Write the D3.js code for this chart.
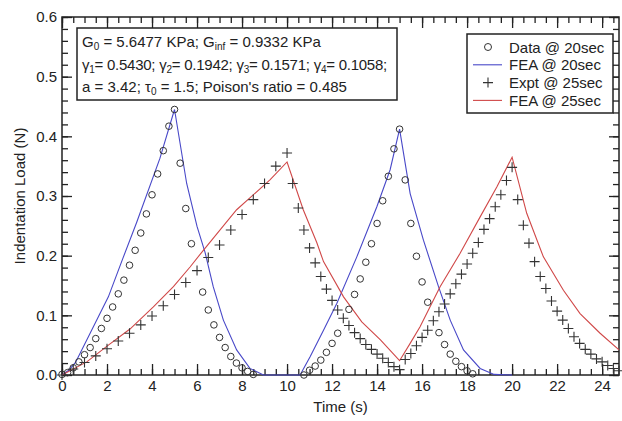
<!DOCTYPE html>
<html>
<head>
<meta charset="utf-8">
<script src="https://cdn.jsdelivr.net/npm/d3@7"></script>
<style>
  body { margin: 0; background: #fff; }
  svg { font-family: "Liberation Sans", Arial, sans-serif; }
</style>
</head>
<body>
<div id="chart"></div>
<script>
const width = 622, height = 421;
const margin = { left: 62, right: 3, top: 17, bottom: 46 };

// Data @ 20sec (circles) : [time, load]
const data20 = [
  [0, 0.001], [0.25, 0.004], [0.5, 0.012], [0.75, 0.022], [1.0, 0.034], [1.25, 0.046], [1.5, 0.061],
  [1.75, 0.078], [2.0, 0.095], [2.25, 0.114], [2.5, 0.136], [2.75, 0.159], [3.0, 0.184], [3.25, 0.209],
  [3.5, 0.238], [3.75, 0.27], [4.0, 0.302], [4.25, 0.337], [4.5, 0.376], [4.75, 0.417], [5.0, 0.445],
  [5.25, 0.355], [5.5, 0.279], [5.75, 0.22], [6.25, 0.139], [6.5, 0.109], [6.75, 0.084], [7.0, 0.063],
  [7.25, 0.046], [7.5, 0.031], [7.75, 0.02], [8.0, 0.012], [8.25, 0.006], [8.5, 0.001],
  [10.75, 0.0], [11.0, 0.008], [11.25, 0.015], [11.5, 0.025], [11.75, 0.038], [12.0, 0.053], [12.25, 0.07],
  [12.75, 0.11], [13.0, 0.135], [13.25, 0.161], [13.5, 0.189], [13.75, 0.22], [14.0, 0.254],
  [14.25, 0.292], [14.5, 0.333], [14.75, 0.379], [15.0, 0.412], [15.25, 0.327], [15.5, 0.254],
  [15.75, 0.199], [16.0, 0.156], [16.25, 0.122], [16.75, 0.071], [17.0, 0.051], [17.25, 0.035],
  [17.5, 0.023], [17.75, 0.014], [18.0, 0.007], [18.25, 0.002]
];

// FEA @ 20sec (blue line)
const fea20 = [
  [0, 0], [0.3, 0.008], [0.6, 0.021], [1.2, 0.066], [2.06, 0.131], [2.7, 0.195], [3.32, 0.256],
  [4.35, 0.363], [5.0, 0.445], [5.54, 0.321], [6.0, 0.249], [6.36, 0.205], [6.72, 0.148],
  [7.17, 0.092], [7.76, 0.042], [8.35, 0.011], [8.95, 0.0], [10.58, 0.0], [11.03, 0.031],
  [11.62, 0.075], [12.21, 0.12], [13.1, 0.198], [13.99, 0.282], [14.58, 0.344], [15.0, 0.412],
  [15.47, 0.304], [16.06, 0.226], [16.73, 0.148], [17.25, 0.092], [17.84, 0.042], [18.58, 0.011],
  [19.2, 0.001], [20.0, 0.0]
];

// Expt @ 25sec (plus markers)
const expt25 = [
  [0, 0], [0.5, 0.01], [1.0, 0.021], [1.5, 0.032], [2.0, 0.044], [2.5, 0.057], [3.0, 0.07],
  [3.5, 0.084], [4.0, 0.099], [4.5, 0.116], [5.0, 0.135], [5.5, 0.155], [6.0, 0.175], [6.5, 0.197],
  [7.0, 0.218], [7.5, 0.243], [8.0, 0.269], [8.5, 0.294], [9.0, 0.321], [9.5, 0.35], [10.0, 0.372],
  [10.25, 0.321], [10.5, 0.28], [10.75, 0.243], [11.0, 0.213], [11.25, 0.188], [11.5, 0.165],
  [11.75, 0.144], [12.0, 0.125], [12.25, 0.109], [12.5, 0.095], [12.75, 0.083], [13.0, 0.071],
  [13.25, 0.061], [13.5, 0.051], [13.75, 0.043], [14.0, 0.035], [14.25, 0.028], [14.5, 0.021],
  [14.75, 0.014], [15.0, 0.009], [15.25, 0.026], [15.5, 0.036], [15.75, 0.049], [16.0, 0.063],
  [16.25, 0.075], [16.5, 0.091], [16.75, 0.106], [17.0, 0.119], [17.25, 0.136], [17.5, 0.153],
  [17.75, 0.169], [18.0, 0.186], [18.25, 0.204], [18.5, 0.222], [18.75, 0.244], [19.0, 0.262],
  [19.25, 0.282], [19.5, 0.302], [19.75, 0.326], [20.0, 0.348], [20.25, 0.294], [20.5, 0.251],
  [20.75, 0.221], [21.0, 0.19], [21.25, 0.165], [21.5, 0.145], [21.75, 0.124], [22.0, 0.107],
  [22.25, 0.092], [22.5, 0.078], [22.75, 0.064], [23.0, 0.053], [23.25, 0.043], [23.5, 0.035],
  [23.75, 0.027], [24.0, 0.022], [24.25, 0.016], [24.5, 0.011], [24.75, 0.007]
];

// FEA @ 25sec (red line)
const fea25 = [
  [0, 0], [1.1, 0.022], [2.06, 0.05], [3.02, 0.077], [4.06, 0.114], [4.95, 0.148], [5.69, 0.181],
  [6.28, 0.209], [7.76, 0.277], [9.24, 0.327], [10.0, 0.357], [10.72, 0.277], [11.32, 0.222],
  [11.62, 0.19], [12.51, 0.131], [13.32, 0.089], [14.15, 0.059], [15.0, 0.024], [15.47, 0.053],
  [15.91, 0.081], [16.8, 0.148], [17.69, 0.204], [18.58, 0.265], [19.32, 0.315], [20.0, 0.365],
  [20.65, 0.271], [21.39, 0.198], [22.28, 0.142], [23.02, 0.103], [23.91, 0.07], [24.75, 0.042]
];

const xMajor = d3.range(0, 25, 2);
const xMinor = d3.range(0, 24.76, 0.5);
const yMajor = d3.range(0, 0.61, 0.1);
const yMinor = d3.range(0, 0.601, 0.02);

const legendItems = [
  { label: "Data @ 20sec", type: "circle" },
  { label: "FEA @ 20sec", type: "line", color: "#4848c8" },
  { label: "Expt @ 25sec", type: "plus" },
  { label: "FEA @ 25sec", type: "line", color: "#d04848" }
];

const textColor = "#222";

const svg = d3.select("#chart").append("svg")
  .attr("width", width)
  .attr("height", height);

const x = d3.scaleLinear().domain([0, 24.75]).range([margin.left, width - margin.right]);
const y = d3.scaleLinear().domain([0, 0.6]).range([height - margin.bottom, margin.top]);

const x0 = margin.left, x1 = width - margin.right, y0 = height - margin.bottom, y1 = margin.top;

// axes: minor ticks first, then major ticks with labels
function styleAxis(g) {
  g.select(".domain").remove();
  g.selectAll("line").attr("stroke", "#222").attr("stroke-width", 1.3);
  g.selectAll("text").attr("fill", textColor).style("font-size", "15px");
}

svg.append("g").attr("transform", `translate(0,${y0})`)
  .call(d3.axisBottom(x).tickValues(xMinor).tickSize(-6).tickFormat(""))
  .call(styleAxis);
svg.append("g").attr("transform", `translate(0,${y0})`)
  .call(d3.axisBottom(x).tickValues(xMajor).tickSize(-11).tickPadding(5).tickFormat(d3.format("d")))
  .call(styleAxis);
svg.append("g").attr("transform", `translate(0,${y1})`)
  .call(d3.axisTop(x).tickValues(xMinor).tickSize(-6).tickFormat(""))
  .call(styleAxis);
svg.append("g").attr("transform", `translate(0,${y1})`)
  .call(d3.axisTop(x).tickValues(xMajor).tickSize(-11).tickFormat(""))
  .call(styleAxis);

svg.append("g").attr("transform", `translate(${x0},0)`)
  .call(d3.axisLeft(y).tickValues(yMinor).tickSize(-6).tickFormat(""))
  .call(styleAxis);
svg.append("g").attr("transform", `translate(${x0},0)`)
  .call(d3.axisLeft(y).tickValues(yMajor).tickSize(-10).tickPadding(5).tickFormat(d3.format(".1f")))
  .call(styleAxis);
svg.append("g").attr("transform", `translate(${x1},0)`)
  .call(d3.axisRight(y).tickValues(yMinor).tickSize(-6).tickFormat(""))
  .call(styleAxis);
svg.append("g").attr("transform", `translate(${x1},0)`)
  .call(d3.axisRight(y).tickValues(yMajor).tickSize(-10).tickFormat(""))
  .call(styleAxis);

// frame
svg.append("rect")
  .attr("x", x0).attr("y", y1)
  .attr("width", x1 - x0).attr("height", y0 - y1)
  .attr("fill", "none").attr("stroke", "#222").attr("stroke-width", 1.5);

// axis titles
svg.append("text")
  .attr("x", (x0 + x1) / 2).attr("y", 412)
  .attr("text-anchor", "middle").attr("fill", textColor)
  .style("font-size", "15px").text("Time (s)");
svg.append("text")
  .attr("transform", `translate(25,${(y0 + y1) / 2}) rotate(-90)`)
  .attr("text-anchor", "middle").attr("fill", textColor)
  .style("font-size", "15px").text("Indentation Load (N)");

const line = d3.line().x(d => x(d[0])).y(d => y(d[1]));
const plusPath = "M-5,0H5M0,-5V5";

// lines
svg.append("path").datum(fea20)
  .attr("d", line).attr("fill", "none").attr("stroke", "#4848c8").attr("stroke-width", 1.1);
svg.append("path").datum(fea25)
  .attr("d", line).attr("fill", "none").attr("stroke", "#d04848").attr("stroke-width", 1.1);

// markers
svg.append("g").selectAll("circle").data(data20).join("circle")
  .attr("cx", d => x(d[0])).attr("cy", d => y(d[1])).attr("r", 3.3)
  .attr("fill", "none").attr("stroke", "#333").attr("stroke-width", 1);
svg.append("g").selectAll("path").data(expt25).join("path")
  .attr("transform", d => `translate(${x(d[0])},${y(d[1])})`)
  .attr("d", plusPath).attr("stroke", "#333").attr("stroke-width", 1.1);

// parameter box
const info = svg.append("g");
info.append("rect")
  .attr("x", 77).attr("y", 28).attr("width", 320).attr("height", 72)
  .attr("fill", "#fff").attr("stroke", "#222").attr("stroke-width", 1.5);

const infoLines = [
  [["G", ""], ["0", "sub"], [" = 5.6477 KPa; G", ""], ["inf", "sub"], [" = 0.9332 KPa", ""]],
  [["γ", ""], ["1", "sub"], ["= 0.5430; γ", ""], ["2", "sub"], ["= 0.1942; γ", ""], ["3", "sub"],
   ["= 0.1571; γ", ""], ["4", "sub"], ["= 0.1058;", ""]],
  [["a = 3.42; τ", ""], ["0", "sub"], [" = 1.5; Poison's ratio = 0.485", ""]]
];
infoLines.forEach((parts, i) => {
  const t = info.append("text")
    .attr("x", 82).attr("y", 47 + i * 22.5)
    .attr("fill", textColor).style("font-size", "15px")
    .style("letter-spacing", i === 1 ? "-0.25px" : null);
  parts.forEach(([s, kind]) => {
    const ts = t.append("tspan").text(s);
    if (kind === "sub") ts.attr("baseline-shift", "-25%").style("font-size", "10px");
  });
});

// legend
const legend = svg.append("g");
legend.append("rect")
  .attr("x", 467).attr("y", 34).attr("width", 146).attr("height", 79)
  .attr("fill", "#fff").attr("stroke", "#222").attr("stroke-width", 1.5);
legendItems.forEach((item, i) => {
  const cy = 47 + i * 17.8;
  const g = legend.append("g");
  if (item.type === "circle") {
    g.append("circle").attr("cx", 488).attr("cy", cy).attr("r", 3.5)
      .attr("fill", "none").attr("stroke", "#333");
  } else if (item.type === "plus") {
    g.append("path").attr("transform", `translate(488,${cy})`).attr("d", plusPath)
      .attr("stroke", "#333").attr("stroke-width", 1.1);
  } else {
    g.append("line").attr("x1", 473).attr("x2", 502).attr("y1", cy).attr("y2", cy)
      .attr("stroke", item.color).attr("stroke-width", 1.1);
  }
  g.append("text").attr("x", 509).attr("y", cy + 5.5)
    .attr("fill", textColor).style("font-size", "15px").text(item.label);
});
</script>
</body>
</html>
